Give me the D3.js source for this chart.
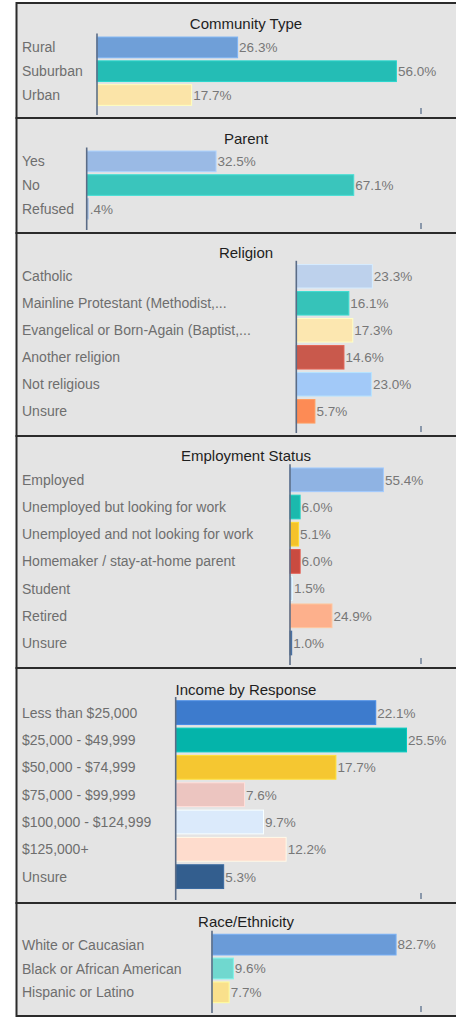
<!DOCTYPE html>
<html>
<head>
<meta charset="utf-8">
<script src="https://cdn.jsdelivr.net/npm/d3@7"></script>
<style>
  html, body { margin: 0; padding: 0; background: #ffffff; }
  svg { display: block; }
</style>
</head>
<body>
<svg id="chart" width="456" height="1018"></svg>
<script>
// ---------- DATA ----------
const titles = ["Community Type", "Parent", "Religion", "Employment Status", "Income by Response", "Race/Ethnicity"];

const communityCats = ["Rural", "Suburban", "Urban"];
const communityVals = [26.3, 56.0, 17.7];
const communityColors = ["#6f9fd8", "#24bdb5", "#fbe4a8"];

const parentCats = ["Yes", "No", "Refused"];
const parentVals = [32.5, 67.1, 0.4];
const parentColors = ["#9abae5", "#3ac5bc", "#9ab0cc"];

const religionCats = ["Catholic", "Mainline Protestant (Methodist,...", "Evangelical or Born-Again (Baptist,...", "Another religion", "Not religious", "Unsure"];
const religionVals = [23.3, 16.1, 17.3, 14.6, 23.0, 5.7];
const religionColors = ["#bdd1ec", "#36c3b9", "#fce7b0", "#c9594c", "#a2c9f8", "#fd8b55"];

const employmentCats = ["Employed", "Unemployed but looking for work", "Unemployed and not looking for work", "Homemaker / stay-at-home parent", "Student", "Retired", "Unsure"];
const employmentVals = [55.4, 6.0, 5.1, 6.0, 1.5, 24.9, 1.0];
const employmentColors = ["#8fb3e3", "#1bb9ad", "#f5c22b", "#c94b40", "#c7dbf3", "#fdb08c", "#3b5f8f"];

const incomeCats = ["Less than $25,000", "$25,000 - $49,999", "$50,000 - $74,999", "$75,000 - $99,999", "$100,000 - $124,999", "$125,000+", "Unsure"];
const incomeVals = [22.1, 25.5, 17.7, 7.6, 9.7, 12.2, 5.3];
const incomeColors = ["#3d7bcd", "#04b4aa", "#f5c731", "#ecc5c0", "#dbeafb", "#fedccd", "#335e8e"];

const raceCats = ["White or Caucasian", "Black or African American", "Hispanic or Latino"];
const raceVals = [82.7, 9.6, 7.7];
const raceColors = ["#6a9bd8", "#70d8cf", "#f9e08c"];

// axis maximum of each panel (value at the right end of the plot area)
const axisMax = [60.6, 84, 38.2, 77.7, 27.1, 93.9];

// ---------- LAYOUT ----------
const layout = [
  { top: 3,   bottom: 118,  base: 97,    bandStart: 35.5,  pitch: 23.8 , titleY: 29 },
  { top: 118, bottom: 233,  base: 86.7,  bandStart: 149.5, pitch: 23.7 , titleY: 143.5 },
  { top: 233, bottom: 436,  base: 296.3, bandStart: 262.8, pitch: 27.0 , titleY: 257.5 },
  { top: 436, bottom: 668,  base: 290,   bandStart: 466.2, pitch: 27.2 , titleY: 461 },
  { top: 668, bottom: 903,  base: 175.7, bandStart: 699,   pitch: 27.33, titleY: 694.5 },
  { top: 903, bottom: 1016, base: 212,   bandStart: 932.7, pitch: 23.85, titleY: 926.5 }
];
const plotRight = 421;
const panelLeft = 16.5;

const panels = [
  [communityCats, communityVals, communityColors],
  [parentCats, parentVals, parentColors],
  [religionCats, religionVals, religionColors],
  [employmentCats, employmentVals, employmentColors],
  [incomeCats, incomeVals, incomeColors],
  [raceCats, raceVals, raceColors]
];

const svg = d3.select("#chart");
const fmt = v => (v < 1 ? d3.format(".1f")(v).replace(/^0/, "") : d3.format(".1f")(v)) + "%";

panels.forEach(([cats, vals, cols], i) => {
  const L = layout[i];
  const g = svg.append("g");

  // panel background + border
  g.append("rect")
    .attr("x", panelLeft).attr("y", L.top)
    .attr("width", 520).attr("height", L.bottom - L.top)
    .attr("fill", "#e4e4e4")
    .attr("stroke", "#2b2b2b").attr("stroke-width", 2);

  const x = d3.scaleLinear().domain([0, axisMax[i]]).range([L.base, plotRight]);
  const y = d3.scaleBand().domain(cats)
    .range([L.bandStart, L.bandStart + cats.length * L.pitch])
    .paddingInner(0.13).paddingOuter(0.065);

  // title
  g.append("text")
    .attr("x", 246).attr("y", L.titleY)
    .attr("text-anchor", "middle")
    .attr("font-family", "Liberation Sans, Arial, sans-serif")
    .attr("font-size", 15).attr("fill", "#1e1e1e")
    .text(titles[i]);

  const data = cats.map((c, k) => ({ c, v: vals[k], col: cols[k] }));

  // bars
  g.selectAll("rect.bar").data(data).join("rect")
    .attr("class", "bar")
    .attr("x", x(0))
    .attr("y", d => y(d.c))
    .attr("width", d => Math.max(0, x(d.v) - x(0)))
    .attr("height", y.bandwidth())
    .attr("fill", d => d.col)
    .attr("stroke", d => d3.color(d.col).brighter(0.35))
    .attr("stroke-width", 1);

  // category labels
  g.selectAll("text.cat").data(data).join("text")
    .attr("class", "cat")
    .attr("x", 22)
    .attr("y", d => y(d.c) + y.bandwidth() / 2)
    .attr("dy", "0.36em")
    .attr("font-family", "Liberation Sans, Arial, sans-serif")
    .attr("font-size", 14).attr("fill", "#6e6e6e")
    .text(d => d.c);

  // value labels
  g.selectAll("text.val").data(data).join("text")
    .attr("class", "val")
    .attr("x", d => x(d.v) + 1.5)
    .attr("y", d => y(d.c) + y.bandwidth() / 2)
    .attr("dy", "0.36em")
    .attr("font-family", "Liberation Sans, Arial, sans-serif")
    .attr("font-size", 13.5).attr("fill", "#777777")
    .text(d => fmt(d.v));

  // baseline axis
  g.append("line")
    .attr("x1", x(0)).attr("x2", x(0))
    .attr("y1", L.bandStart - 2).attr("y2", L.bottom - 3)
    .attr("stroke", "#5b6c86").attr("stroke-width", 1.6);

  // right tick
  g.append("line")
    .attr("x1", x(axisMax[i])).attr("x2", x(axisMax[i]))
    .attr("y1", L.bottom - 10).attr("y2", L.bottom - 4)
    .attr("stroke", "#6d7f99").attr("stroke-width", 1.5);
});
</script>
</body>
</html>
